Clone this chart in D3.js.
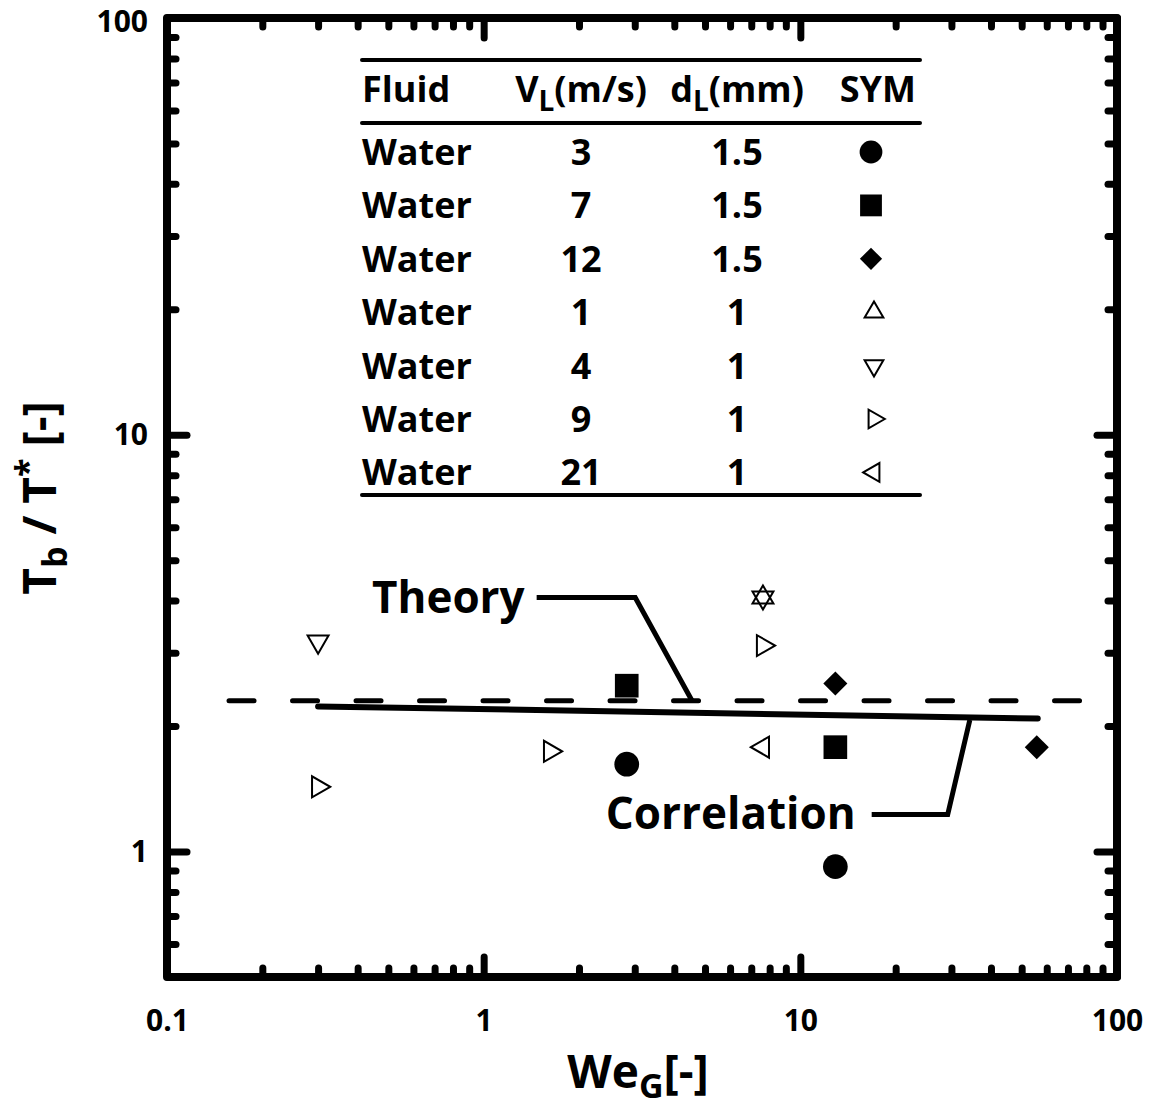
<!DOCTYPE html>
<html>
<head>
<meta charset="utf-8">
<script src="https://cdn.jsdelivr.net/npm/d3@7"></script>
<style>
  body { margin: 0; background: #fff; }
  text { font-family: "Open Sans", sans-serif; font-weight: 700; fill: #000; }
</style>
</head>
<body>
<svg id="chart" width="1161" height="1107"></svg>
<script>
// series: one array per test condition (WeG, Tb/T*)
const seriesNames = ["V3_d1.5", "V7_d1.5", "V12_d1.5", "V1_d1", "V4_d1", "V9_d1", "V21_d1"];
const fluids = ["Water", "Water", "Water", "Water", "Water", "Water", "Water"];
const velocities = ["3", "7", "12", "1", "4", "9", "21"];
const diameters = ["1.5", "1.5", "1.5", "1", "1", "1", "1"];
const symbolKinds = ["circle", "square", "diamond", "up", "down", "right", "left"];

const weV3 = [2.83, 12.9];   const tbV3 = [1.62, 0.92];
const weV7 = [2.83, 12.9];   const tbV7 = [2.50, 1.78];
const weV12 = [12.9, 55.8];  const tbV12 = [2.53, 1.78];
const weV1 = [7.62];         const tbV1 = [4.07];
const weV4 = [0.30, 7.62];   const tbV4 = [3.19, 4.07];
const weV9 = [0.30, 1.62, 7.62]; const tbV9 = [1.43, 1.74, 3.12];
const weV21 = [7.62];        const tbV21 = [1.78];

// lines
const theoryX = [0.157, 90];  const theoryY = [2.3, 2.3];
const corrX = [0.3, 56.2];    const corrY = [2.23, 2.085];

// annotation leaders (data coords)
const theoryLeader = [[1.47, 4.07], [3.01, 4.07], [4.55, 2.3]];
const corrLeader = [[16.8, 1.227], [29.2, 1.227], [34.3, 2.07]];

const xMajor = [0.1, 1, 10, 100];
const yMajor = [1, 10, 100];

const seriesX = [weV3, weV7, weV12, weV1, weV4, weV9, weV21];
const seriesY = [tbV3, tbV7, tbV12, tbV1, tbV4, tbV9, tbV21];

const svg = d3.select("#chart");
const pLeft = 167, pRight = 1117, pTop = 18, pBottom = 977;

const x = d3.scaleLog().domain([0.1, 100]).range([pLeft, pRight]);
const y = d3.scaleLog().domain([0.5, 100]).range([pBottom, pTop]);

// minor tick values
const minorTicks = (lo, hi) => {
  const out = [];
  for (let e = -2; e <= 2; e++) {
    for (let m = 2; m <= 9; m++) {
      const v = m * Math.pow(10, e);
      if (v > lo * 1.0001 && v < hi * 0.9999) out.push(+v.toPrecision(3));
    }
  }
  return out;
};
const xMinor = minorTicks(0.1, 100);
const yMinor = minorTicks(0.5, 100);

const axisG = svg.append("g");
const fmt = d => (d < 1 ? "0.1" : String(d));

// bottom
axisG.append("g").attr("transform", `translate(0,${pBottom})`)
  .call(d3.axisBottom(x).tickValues(xMajor).tickSize(-20).tickPadding(33).tickFormat(fmt));
axisG.append("g").attr("transform", `translate(0,${pBottom})`)
  .call(d3.axisBottom(x).tickValues(xMinor).tickSize(-9).tickFormat(""));
// top
axisG.append("g").attr("transform", `translate(0,${pTop})`)
  .call(d3.axisTop(x).tickValues(xMajor).tickSize(-20).tickFormat(""));
axisG.append("g").attr("transform", `translate(0,${pTop})`)
  .call(d3.axisTop(x).tickValues(xMinor).tickSize(-9).tickFormat(""));
// left
const yAxisG = axisG.append("g").attr("transform", `translate(${pLeft},0)`)
  .call(d3.axisLeft(y).tickValues(yMajor).tickSize(-20).tickPadding(19).tickFormat(fmt));
axisG.append("g").attr("transform", `translate(${pLeft},0)`)
  .call(d3.axisLeft(y).tickValues(yMinor).tickSize(-9).tickFormat(""));
// right
axisG.append("g").attr("transform", `translate(${pRight},0)`)
  .call(d3.axisRight(y).tickValues(yMajor).tickSize(-20).tickFormat(""));
axisG.append("g").attr("transform", `translate(${pRight},0)`)
  .call(d3.axisRight(y).tickValues(yMinor).tickSize(-9).tickFormat(""));

axisG.selectAll(".domain").remove();
axisG.selectAll(".tick line").attr("stroke", "#000").attr("stroke-width", 7).attr("stroke-linecap", "round");
axisG.selectAll(".tick text").style("font-size", "30px").attr("fill", "#000");
// nudge the top label so it stays inside the page
yAxisG.selectAll(".tick text").filter(d => d === 100).attr("dy", "0.45em");

// frame
svg.append("rect")
  .attr("x", pLeft).attr("y", pTop)
  .attr("width", pRight - pLeft).attr("height", pBottom - pTop)
  .attr("fill", "none").attr("stroke", "#000").attr("stroke-width", 8)
  .attr("stroke-linejoin", "round");

// axis titles
const xt = svg.append("text").attr("x", 638).attr("y", 1088)
  .attr("text-anchor", "middle").style("font-size", "46px");
xt.append("tspan").text("We");
xt.append("tspan").attr("dy", 10).style("font-size", "34px").text("G");
xt.append("tspan").attr("dy", -10).text("[-]");

const yt = svg.append("text").attr("transform", "translate(56,498) rotate(-90)")
  .attr("text-anchor", "middle").style("font-size", "46px");
yt.append("tspan").text("T");
yt.append("tspan").attr("dy", 11).style("font-size", "34px").text("b");
yt.append("tspan").attr("dy", -11).text(" / T");
yt.append("tspan").attr("dy", -16).style("font-size", "34px").text("*");
yt.append("tspan").attr("dy", 16).text(" [-]");

// lines
const line = d3.line().x(d => x(d[0])).y(d => y(d[1]));
svg.append("path")
  .datum(d3.zip(theoryX, theoryY))
  .attr("d", line).attr("fill", "none").attr("stroke", "#000")
  .attr("stroke-width", 5).attr("stroke-linecap", "round")
  .attr("stroke-dasharray", "25 38.5");
svg.append("path")
  .datum(d3.zip(corrX, corrY))
  .attr("d", line).attr("fill", "none").attr("stroke", "#000")
  .attr("stroke-width", 6).attr("stroke-linecap", "round");

// leaders + labels
[theoryLeader, corrLeader].forEach(pts => {
  svg.append("path").datum(pts).attr("d", line)
    .attr("fill", "none").attr("stroke", "#000").attr("stroke-width", 5)
    .attr("stroke-linejoin", "miter");
});
svg.append("text").attr("x", x(theoryLeader[0][0]) - 12).attr("y", y(theoryLeader[0][1]) + 16)
  .attr("text-anchor", "end").style("font-size", "44px").text("Theory");
svg.append("text").attr("x", x(corrLeader[0][0]) - 16).attr("y", y(corrLeader[0][1]) + 14)
  .attr("text-anchor", "end").style("font-size", "44px").text("Correlation");

// symbols
const symPath = (kind, scale) => {
  const k = scale || 1;
  if (kind === "circle") return { d: d3.symbol(d3.symbolCircle, 480 * k)(), rot: 0, fill: true };
  if (kind === "square") return { d: d3.symbol(d3.symbolSquare, 560 * k)(), rot: 0, fill: true };
  if (kind === "diamond") return { d: d3.symbol(d3.symbolSquare, 290 * k)(), rot: 45, fill: true };
  const rot = { up: 0, down: 180, right: 90, left: -90 }[kind];
  return { d: d3.symbol(d3.symbolTriangle, 190 * k)(), rot: rot, fill: false };
};

const drawSym = (g, kind, cx, cy, scale) => {
  const s = symPath(kind, scale);
  g.append("path")
    .attr("d", s.d)
    .attr("transform", `translate(${cx},${cy}) rotate(${s.rot})`)
    .attr("fill", s.fill ? "#000" : "none")
    .attr("stroke", "#000")
    .attr("stroke-width", s.fill ? 0 : 2);
};

const markG = svg.append("g");
seriesX.forEach((xs, i) => {
  xs.forEach((xv, j) => drawSym(markG, symbolKinds[i], x(xv), y(seriesY[i][j]), 1));
});

// legend table
const tbl = svg.append("g");
const tLeft = 362, tRight = 920;
const ruleYs = [60, 123, 495];
ruleYs.forEach(ry => {
  tbl.append("line").attr("x1", tLeft).attr("x2", tRight).attr("y1", ry).attr("y2", ry)
    .attr("stroke", "#000").attr("stroke-width", 4).attr("stroke-linecap", "round");
});
const fs = "36px";
const colV = 581, colD = 737, colS = 874;
tbl.append("text").attr("x", tLeft).attr("y", 102).style("font-size", fs).text("Fluid");
const hv = tbl.append("text").attr("x", colV).attr("y", 102).attr("text-anchor", "middle").style("font-size", fs);
hv.append("tspan").text("V");
hv.append("tspan").attr("dy", 9).style("font-size", "28px").text("L");
hv.append("tspan").attr("dy", -9).text("(m/s)");
const hd = tbl.append("text").attr("x", colD).attr("y", 102).attr("text-anchor", "middle").style("font-size", fs);
hd.append("tspan").text("d");
hd.append("tspan").attr("dy", 9).style("font-size", "28px").text("L");
hd.append("tspan").attr("dy", -9).text("(mm)");
tbl.append("text").attr("x", tRight - 4).attr("y", 102).attr("text-anchor", "end").style("font-size", fs).text("SYM");

fluids.forEach((f, i) => {
  const by = 165 + i * 53.4;
  tbl.append("text").attr("x", tLeft).attr("y", by).style("font-size", fs).text(f);
  tbl.append("text").attr("x", colV).attr("y", by).attr("text-anchor", "middle").style("font-size", fs).text(velocities[i]);
  tbl.append("text").attr("x", colD).attr("y", by).attr("text-anchor", "middle").style("font-size", fs).text(diameters[i]);
  const filled = symbolKinds[i] === "circle" || symbolKinds[i] === "square" || symbolKinds[i] === "diamond";
  drawSym(tbl, symbolKinds[i], colS - (filled ? 3 : 0), by - 13, filled ? 0.85 : 0.8);
});
</script>
</body>
</html>
